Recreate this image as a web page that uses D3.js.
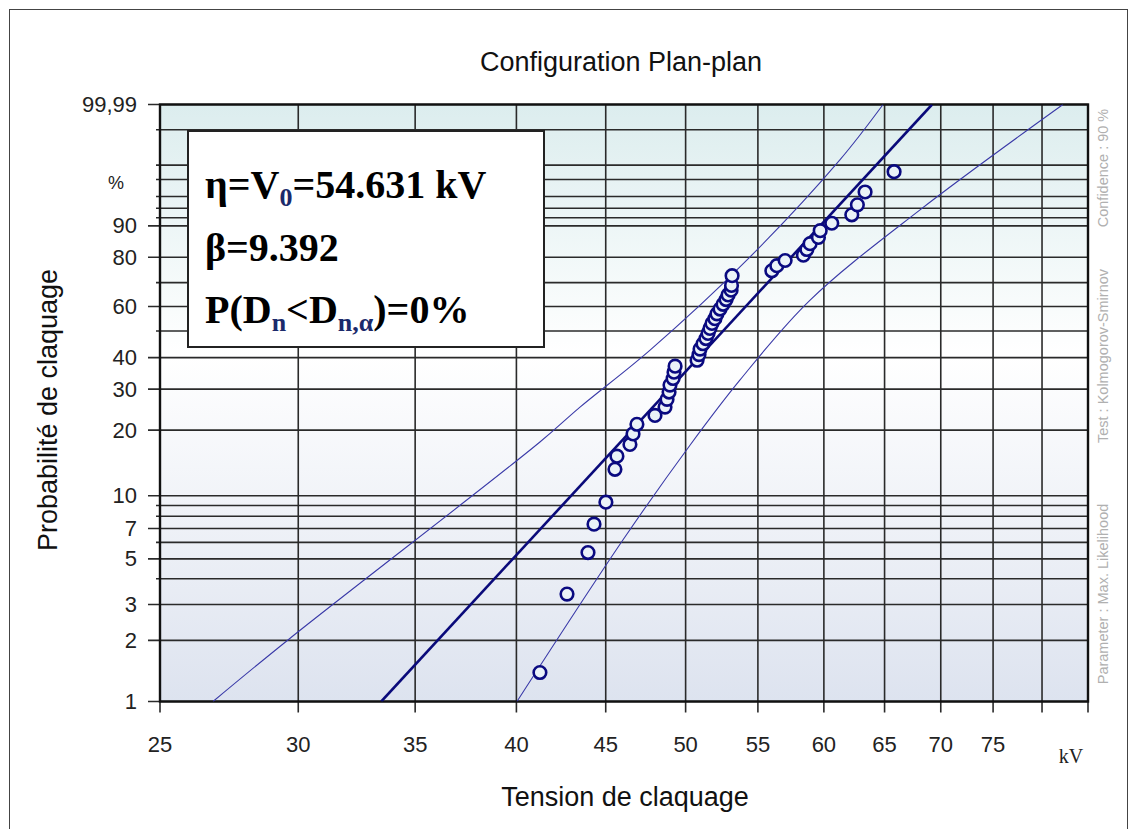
<!DOCTYPE html>
<html>
<head>
<meta charset="utf-8">
<script src="https://cdn.jsdelivr.net/npm/d3@7"></script>
<style>
  body { margin: 0; background: #fff; }
  svg { display: block; font-family: Arial, "Liberation Sans", sans-serif; }
</style>
</head>
<body>
<div class="chart"></div>
<script>
// breakdown voltages (kV) and their plotted probabilities (%)
var breakdownKV = [41.26, 42.76, 43.96, 44.31, 45.01, 45.55, 45.67, 46.46, 46.65, 46.89,
  48.02, 48.66, 48.79, 48.92, 48.98, 49.18, 49.24, 49.31, 50.76, 50.89,
  50.96, 51.16, 51.36, 51.50, 51.63, 51.77, 51.97, 52.11, 52.32, 52.53,
  52.74, 52.88, 53.09, 53.12, 53.16, 56.02, 56.39, 57.01, 58.40, 58.67,
  58.92, 59.57, 59.71, 60.63, 62.25, 62.71, 63.35, 65.82];
var probPct = [1.39, 3.37, 5.36, 7.34, 9.33, 13.29, 15.28, 17.26, 19.25, 21.23,
  23.21, 25.20, 27.18, 29.17, 31.15, 33.13, 35.12, 37.10, 39.09, 41.07,
  43.06, 45.04, 47.02, 49.01, 50.99, 52.98, 54.96, 56.94, 58.93, 60.91,
  62.90, 64.88, 66.87, 68.85, 72.82, 74.80, 76.79, 78.77, 80.75, 82.74,
  84.72, 86.71, 88.69, 90.67, 92.66, 94.64, 96.63, 98.61];

// Weibull fit (eta = 54.631 kV, beta = 9.392), endpoints read on the plot
var fitKV = [33.47, 69.2];
var fitPct = [1, 99.99];

// 90 % confidence bounds
var upperKV = [26.81, 29.68, 41.26, 43.50, 47.71, 54.22, 61.28, 64.87];
var upperPct = [1, 2.05, 17.70, 25.2, 42.7, 79.0, 99.25, 99.99];
var lowerKV = [40.03, 46.03, 50.30, 53.72, 58.92, 68.11, 82.24];
var lowerPct = [1, 6.16, 17.17, 32.7, 62.7, 93.7, 99.99];

// axes
var xTicks = [25, 30, 35, 40, 45, 50, 55, 60, 65, 70, 75, 80, 85];
var xTickLabels = ["25", "30", "35", "40", "45", "50", "55", "60", "65", "70", "75", "", ""];
var yGrid = [1, 2, 3, 4, 5, 6, 7, 8, 9, 10, 20, 30, 40, 50, 60, 70, 80, 90, 92, 94, 96, 98, 99, 99.9, 99.99];
var yLabelled = [1, 2, 3, 5, 7, 10, 20, 30, 40, 60, 80, 90, 99.99];
var yTickLabels = ["1", "2", "3", "5", "7", "10", "20", "30", "40", "60", "80", "90", "99,99"];

var sideNotes = ["Parameter : Max. Likelihood", "Test : Kolmogorov-Smirnov", "Confidence : 90 %"];

var W = 1136, H = 829;
var plot = {left: 160, right: 1088, top: 104.5, bottom: 701.5};

// weibull transform of a percentage
var wb = function (p) { return Math.log(-Math.log(1 - p / 100)); };

var x = d3.scaleLog().domain([25, 85]).range([plot.left, plot.right]);
var yLin = d3.scaleLinear().domain([wb(1), wb(99.99)]).range([plot.bottom, plot.top]);
var y = function (p) { return yLin(wb(p)); };

var svg = d3.select('.chart').append('svg')
  .attr('width', W).attr('height', H);

// outer frame
svg.append('rect')
  .attr('x', 9.5).attr('y', 9.5).attr('width', 1118).attr('height', 840)
  .attr('fill', 'none').attr('stroke', '#444').attr('stroke-width', 1);

var defs = svg.append('defs');
var grad = defs.append('linearGradient').attr('id', 'bg')
  .attr('x1', 0).attr('y1', 0).attr('x2', 0).attr('y2', 1);
grad.append('stop').attr('offset', '0%').attr('stop-color', '#dcedee');
grad.append('stop').attr('offset', '42%').attr('stop-color', '#ffffff');
grad.append('stop').attr('offset', '100%').attr('stop-color', '#dde3ef');

defs.append('clipPath').attr('id', 'clip').append('rect')
  .attr('x', plot.left).attr('y', plot.top)
  .attr('width', plot.right - plot.left).attr('height', plot.bottom - plot.top);

svg.append('rect')
  .attr('x', plot.left).attr('y', plot.top)
  .attr('width', plot.right - plot.left).attr('height', plot.bottom - plot.top)
  .attr('fill', 'url(#bg)');

// horizontal grid lines, labelled ones get a longer tick
svg.append('g').selectAll('line').data(yGrid).enter().append('line')
  .attr('x1', d => yLabelled.indexOf(d) >= 0 ? plot.left - 12 : plot.left - 4)
  .attr('x2', plot.right)
  .attr('y1', d => y(d)).attr('y2', d => y(d))
  .attr('stroke', '#2a2a2a').attr('stroke-width', 1.6);

// vertical grid lines + ticks
svg.append('g').selectAll('line').data(xTicks).enter().append('line')
  .attr('x1', d => x(d)).attr('x2', d => x(d))
  .attr('y1', plot.top).attr('y2', plot.bottom + 11)
  .attr('stroke', '#2a2a2a').attr('stroke-width', 1.6);

// plot border
svg.append('rect')
  .attr('x', plot.left).attr('y', plot.top)
  .attr('width', plot.right - plot.left).attr('height', plot.bottom - plot.top)
  .attr('fill', 'none').attr('stroke', '#111').attr('stroke-width', 2.4);

// tick labels
svg.append('g').selectAll('text').data(yLabelled).enter().append('text')
  .attr('x', 137).attr('y', d => y(d) + 7.5)
  .attr('text-anchor', 'end').attr('font-size', 22).attr('fill', '#222')
  .text((d, i) => yTickLabels[i]);

svg.append('text').attr('x', 116).attr('y', 189).attr('text-anchor', 'middle')
  .attr('font-size', 18).attr('fill', '#222').text('%');

svg.append('g').selectAll('text').data(xTicks).enter().append('text')
  .attr('x', d => x(d)).attr('y', 752)
  .attr('text-anchor', 'middle').attr('font-size', 22).attr('fill', '#222')
  .text((d, i) => xTickLabels[i]);

svg.append('text').attr('x', 1071).attr('y', 763).attr('text-anchor', 'middle')
  .attr('font-family', '"Liberation Serif", "DejaVu Serif", serif')
  .attr('font-size', 20).attr('fill', '#222').text('kV');

// titles
svg.append('text').attr('x', 621).attr('y', 71).attr('text-anchor', 'middle')
  .attr('font-size', 27).attr('fill', '#111').text('Configuration Plan-plan');

svg.append('text').attr('x', 625).attr('y', 806).attr('text-anchor', 'middle')
  .attr('font-size', 27).attr('fill', '#111').text('Tension de claquage');

svg.append('text').attr('transform', 'translate(57,410) rotate(-90)')
  .attr('text-anchor', 'middle').attr('font-size', 27).attr('fill', '#111')
  .text('Probabilité de claquage');

// side notes
var notePos = [594, 356, 168];
svg.append('g').selectAll('text').data(sideNotes).enter().append('text')
  .attr('transform', (d, i) => 'translate(1108,' + notePos[i] + ') rotate(-90)')
  .attr('text-anchor', 'middle').attr('font-size', 14.5).attr('fill', '#b0b0b0')
  .text(d => d);

// curves
var lineGen = d3.line().x(d => x(d[0])).y(d => y(d[1])).curve(d3.curveCatmullRom.alpha(0.5));
var g = svg.append('g').attr('clip-path', 'url(#clip)');

g.append('path').datum(d3.zip(upperKV, upperPct))
  .attr('d', lineGen).attr('fill', 'none')
  .attr('stroke', '#3a3aa8').attr('stroke-width', 1.1);
g.append('path').datum(d3.zip(lowerKV, lowerPct))
  .attr('d', lineGen).attr('fill', 'none')
  .attr('stroke', '#3a3aa8').attr('stroke-width', 1.1);

g.append('path').datum(d3.zip(fitKV, fitPct))
  .attr('d', d3.line().x(d => x(d[0])).y(d => y(d[1])))
  .attr('fill', 'none').attr('stroke', '#0a0a7a').attr('stroke-width', 2.6);

// data markers
g.selectAll('circle').data(d3.zip(breakdownKV, probPct)).enter().append('circle')
  .attr('cx', d => x(d[0])).attr('cy', d => y(d[1])).attr('r', 6.3)
  .attr('fill', '#eaf2f8').attr('stroke', '#0a0a80').attr('stroke-width', 2.6);

// parameter box
svg.append('rect')
  .attr('x', 188).attr('y', 131).attr('width', 356).attr('height', 216)
  .attr('fill', '#fff').attr('stroke', '#222').attr('stroke-width', 2);

var box = svg.append('g')
  .attr('font-family', '"Liberation Serif", "Times New Roman", serif')
  .attr('font-weight', 'bold').attr('font-size', 40).attr('fill', '#000');

var t1 = box.append('text').attr('x', 205).attr('y', 198);
t1.append('tspan').text('η=V');
t1.append('tspan').attr('font-size', 26).attr('dy', 8).attr('fill', '#1b2a6b').text('0');
t1.append('tspan').attr('dy', -8).text('=54.631 kV');

box.append('text').attr('x', 205).attr('y', 261).text('β=9.392');

var t3 = box.append('text').attr('x', 205).attr('y', 323);
t3.append('tspan').text('P(D');
t3.append('tspan').attr('font-size', 26).attr('dy', 8).attr('fill', '#1b2a6b').text('n');
t3.append('tspan').attr('dy', -8).text('<D');
t3.append('tspan').attr('font-size', 26).attr('dy', 8).attr('fill', '#1b2a6b').text('n,α');
t3.append('tspan').attr('dy', -8).text(')=0%');
</script>
</body>
</html>
